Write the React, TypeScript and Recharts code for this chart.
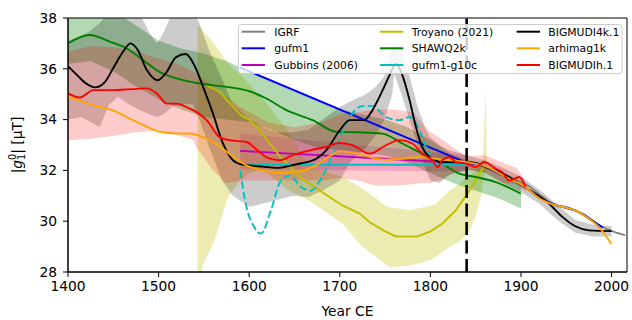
import React from "react";
import { ComposedChart, Line, Area, XAxis, YAxis, ReferenceLine, ReferenceArea } from "recharts";

const FONT = "DejaVu Sans, sans-serif";

// axis ticks
const xTicks = [1400, 1500, 1600, 1700, 1800, 1900, 2000];
const yTicks = [28, 30, 32, 34, 36, 38];

// IGRF
const igrfYears = [1900, 1905, 1910, 1915, 1920, 1925, 1930, 1935, 1940, 1945, 1950, 1955, 1960, 1965, 1970, 1975, 1980, 1985, 1990, 1995, 2000, 2005, 2010, 2015];
const igrfG10 = [31.54, 31.46, 31.35, 31.21, 31.06, 30.94, 30.8, 30.68, 30.59, 30.59, 30.55, 30.5, 30.42, 30.33, 30.22, 30.1, 29.99, 29.87, 29.78, 29.69, 29.62, 29.55, 29.5, 29.44];

// gufm1
const gufmYears = [1590, 1840, 1850, 1860, 1870, 1880, 1890, 1900, 1910, 1920, 1930, 1940, 1950, 1960, 1970, 1980, 1990];
const gufmG10 = [36.05, 32.3, 32.25, 32.17, 31.98, 31.8, 31.62, 31.44, 31.2, 30.92, 30.75, 30.62, 30.52, 30.43, 30.25, 30.0, 29.75];

// Gubbins (2006)
const gubYears = [1590, 1840];
const gubG10 = [32.77, 32.28];
const gubLow = [32.05, 31.95];
const gubHigh = [33.45, 32.6];

// Troyano (2021)
const troyYears = [1545, 1553, 1567, 1580, 1590, 1600, 1611, 1634, 1656, 1678, 1703, 1722, 1733, 1750, 1762, 1786, 1800, 1813, 1828, 1843, 1854, 1860];
const troyG10 = [35.4, 35.36, 35.1, 34.6, 34.2, 34.0, 33.6, 32.55, 31.74, 31.2, 30.62, 30.3, 29.96, 29.6, 29.4, 29.4, 29.6, 29.9, 30.43, 31.2, 31.87, 32.2];
const troyBandYears = [1543, 1549, 1560, 1564, 1575, 1578, 1590, 1600, 1610, 1620, 1630, 1640, 1650, 1667, 1703, 1722, 1740, 1747, 1755, 1777, 1799, 1806, 1821, 1832, 1843, 1850, 1856, 1858, 1861, 1862];
const troyLow = [27.3, 28.3, 29.1, 29.5, 30.8, 31.0, 31.6, 31.9, 32.0, 31.9, 31.6, 31.3, 31.1, 30.8, 29.9, 29.1, 28.58, 28.4, 28.19, 28.25, 28.45, 28.6, 28.98, 29.2, 29.6, 30.2, 31.0, 31.5, 32.0, 32.2];
const troyHigh = [37.7, 37.5, 37.05, 36.85, 36.3, 36.15, 35.8, 35.4, 35.0, 34.6, 34.1, 33.7, 33.1, 32.13, 31.74, 31.35, 30.9, 30.69, 30.55, 30.43, 30.6, 30.69, 31.2, 31.48, 31.8, 32.0, 32.3, 32.5, 35.2, 32.6];

// SHAWQ2k
const shawYears = [1400, 1424, 1446, 1465, 1483, 1501, 1520, 1545, 1575, 1600, 1619, 1641, 1670, 1696, 1720, 1747, 1769, 1791, 1810, 1832, 1850, 1872, 1900];
const shawG10 = [37.0, 37.33, 37.07, 36.8, 36.34, 35.88, 35.62, 35.42, 35.29, 35.12, 34.83, 34.37, 33.98, 33.52, 33.5, 33.45, 33.06, 32.66, 32.33, 31.87, 31.74, 31.54, 31.08];
const shawBandYears = [1400, 1425, 1450, 1475, 1500, 1525, 1550, 1575, 1600, 1625, 1650, 1675, 1700, 1725, 1750, 1775, 1800, 1825, 1850, 1875, 1900];
const shawLow = [36.2, 36.3, 35.9, 35.3, 34.8, 34.4, 34.1, 34.0, 33.9, 33.6, 33.2, 32.9, 32.8, 32.7, 32.6, 32.3, 31.9, 31.5, 31.2, 30.9, 30.5];
const shawHigh = [38.4, 38.6, 38.3, 37.7, 37.1, 36.8, 36.6, 36.3, 35.9, 35.5, 35.1, 34.8, 34.4, 34.2, 34.0, 33.7, 33.2, 32.6, 32.3, 32.0, 31.6];

// gufm1-g10c (constant) and its varying counterpart (dashed)
const g10cYears = [1590, 1840];
const g10cG10 = [32.22, 32.22];
const g10dYears = [1590, 1597, 1605, 1613, 1624, 1635, 1645, 1657, 1668, 1678, 1687, 1696, 1711, 1725, 1736, 1751, 1766, 1777, 1788, 1795, 1802, 1812, 1840];
const g10dG10 = [32.0, 30.56, 29.8, 29.51, 30.43, 31.6, 31.8, 31.35, 31.2, 31.6, 32.2, 32.92, 34.1, 34.53, 34.53, 34.1, 33.98, 34.1, 33.58, 32.92, 32.4, 32.22, 32.22];

// BIGMUDI4k.1
const b4kYears = [1400, 1410, 1420, 1430, 1440, 1450, 1460, 1469, 1477, 1487, 1499, 1509, 1519, 1530, 1540, 1549, 1560, 1571, 1582, 1590, 1600, 1615, 1630, 1645, 1656, 1674, 1685, 1700, 1711, 1727, 1736, 1749, 1755, 1762, 1769, 1777, 1784, 1791, 1799, 1806, 1810, 1839, 1850, 1861, 1876, 1887, 1898, 1916, 1931, 1946, 1960, 1975, 2000];
const b4kG10 = [36.1, 35.75, 35.42, 35.27, 35.45, 36.03, 36.63, 37.0, 36.74, 35.95, 35.55, 35.88, 36.45, 36.58, 36.1, 35.3, 34.24, 33.06, 32.4, 32.25, 32.2, 32.15, 32.1, 32.18, 32.27, 32.46, 32.79, 33.58, 33.98, 33.98, 34.37, 35.29, 35.75, 36.2, 35.75, 34.77, 33.71, 32.92, 32.53, 32.4, 32.33, 32.33, 32.29, 32.13, 31.94, 31.74, 31.48, 31.08, 30.69, 30.16, 29.8, 29.64, 29.61];
const b4kBandYears = [1400, 1415, 1425, 1435, 1445, 1455, 1467, 1478, 1490, 1498, 1505, 1515, 1528, 1538, 1545, 1555, 1570, 1582, 1601, 1615, 1630, 1648, 1665, 1681, 1700, 1711, 1729, 1740, 1749, 1758, 1760, 1768, 1777, 1786, 1795, 1800, 1810, 1820, 1840, 1860, 1880, 1900, 1920, 1940, 1960, 1980, 2000];
const b4kLow = [34.0, 34.1, 33.9, 33.7, 34.57, 34.9, 34.6, 34.4, 34.2, 34.1, 34.2, 34.5, 34.6, 34.6, 34.0, 33.0, 31.6, 31.0, 30.56, 30.7, 30.82, 31.0, 30.95, 31.2, 31.6, 32.3, 32.9, 33.4, 33.98, 35.0, 35.8, 35.0, 33.98, 33.0, 32.0, 31.6, 31.5, 31.8, 32.05, 31.9, 31.5, 31.15, 30.7, 30.05, 29.55, 29.4, 29.4];
const b4kHigh = [37.1, 37.3, 37.5, 37.8, 38.2, 38.6, 38.7, 38.3, 37.4, 37.0, 37.4, 38.2, 38.6, 38.3, 37.8, 36.8, 35.6, 34.6, 34.0, 33.7, 33.5, 33.5, 33.6, 34.0, 34.5, 34.7, 35.0, 35.3, 35.7, 36.87, 36.8, 36.6, 35.7, 34.5, 33.6, 33.3, 33.0, 32.8, 32.6, 32.4, 32.1, 31.75, 31.25, 30.65, 30.05, 29.85, 29.8];

// arhimag1k
const arhYears = [1400, 1428, 1450, 1465, 1483, 1501, 1520, 1531, 1553, 1565, 1578, 1597, 1615, 1634, 1652, 1670, 1685, 1700, 1714, 1730, 1751, 1773, 1788, 1813, 1839, 1861, 1887, 1902, 1924, 1946, 1960, 1975, 1986, 2000];
const arhG10 = [34.9, 34.57, 34.35, 34.1, 33.78, 33.52, 33.45, 33.45, 33.25, 33.0, 32.66, 32.2, 32.0, 31.9, 31.94, 32.13, 32.47, 32.75, 32.7, 32.55, 32.42, 32.47, 32.53, 32.42, 32.33, 32.16, 31.67, 31.41, 30.82, 30.56, 30.43, 30.1, 29.77, 29.1];

// BIGMUDIh.1
const bhYears = [1400, 1413, 1428, 1450, 1470, 1487, 1498, 1509, 1520, 1530, 1538, 1553, 1567, 1578, 1590, 1597, 1611, 1622, 1634, 1648, 1667, 1685, 1700, 1714, 1733, 1751, 1766, 1780, 1791, 1802, 1808, 1813, 1821, 1828, 1839, 1850, 1859, 1872, 1879, 1887, 1898, 1905];
const bhG10 = [35.03, 34.87, 35.16, 35.16, 35.2, 35.23, 35.03, 34.63, 34.63, 34.5, 34.37, 33.98, 33.32, 33.19, 33.15, 33.12, 32.73, 32.47, 32.4, 32.6, 32.79, 32.92, 33.08, 32.99, 32.66, 32.99, 33.19, 33.06, 32.66, 32.4, 32.13, 32.4, 32.53, 32.33, 32.27, 32.13, 32.33, 32.07, 31.94, 31.6, 31.74, 31.35];
const bhBandYears = [1400, 1425, 1450, 1475, 1500, 1520, 1538, 1542, 1560, 1575, 1590, 1620, 1650, 1680, 1700, 1720, 1740, 1760, 1780, 1790, 1800, 1810, 1825, 1840, 1860, 1880, 1895, 1905];
const bhLow = [33.19, 33.25, 33.35, 33.5, 33.58, 33.4, 33.2, 32.9, 32.0, 31.48, 31.6, 31.6, 31.6, 31.6, 31.7, 31.6, 31.4, 31.4, 31.45, 31.5, 31.5, 31.6, 31.9, 32.0, 31.95, 31.5, 31.45, 31.15];
const bhHigh = [36.67, 36.9, 36.85, 36.7, 36.4, 36.2, 35.9, 35.8, 35.3, 34.9, 34.5, 33.9, 33.7, 33.9, 34.2, 34.3, 34.4, 34.4, 34.3, 33.9, 33.5, 33.3, 32.9, 32.55, 32.6, 32.3, 32.1, 31.6];

const legendItems = [
  { name: "IGRF", color: "#808080" },
  { name: "gufm1", color: "#0000ff" },
  { name: "Gubbins (2006)", color: "#bf00bf" },
  { name: "Troyano (2021)", color: "#bfbf00" },
  { name: "SHAWQ2k", color: "#008000" },
  { name: "gufm1-g10c", color: "#00bfbf" },
  { name: "BIGMUDI4k.1", color: "#000000" },
  { name: "arhimag1k", color: "#ffa500" },
  { name: "BIGMUDIh.1", color: "#ff0000" },
];

const toLine = (years: number[], vals: number[]) => years.map((year, i) => ({ year, v: vals[i] }));
const toBand = (years: number[], lo: number[], hi: number[]) =>
  years.map((year, i) => ({ year, range: [lo[i], hi[i]] }));

function band(data: any[], color: string, opacity: number) {
  return (
    <Area
      data={data}
      dataKey="range"
      type="linear"
      stroke="none"
      fill={color}
      fillOpacity={opacity}
      dot={false}
      activeDot={false}
      isAnimationActive={false}
    />
  );
}

function line(data: any[], color: string, extra: any = {}) {
  return (
    <Line
      data={data}
      dataKey="v"
      type="monotoneX"
      stroke={color}
      strokeWidth={1.9}
      dot={false}
      activeDot={false}
      isAnimationActive={false}
      {...extra}
    />
  );
}

export default function App() {
  const tickStyle = { fill: "#000", fontSize: 13.8, fontFamily: FONT };
  const rows = [31.7, 48.3, 65];
  const handleX = [241.7, 380, 516.7];
  const textX = [274.3, 411.7, 548.3];
  return (
    <div style={{ position: "absolute", left: 0, top: 0, width: 632, height: 320, background: "#fff" }}>
      <ComposedChart width={632} height={320} margin={{ top: 18, right: 5, bottom: 18, left: 8 }}>
        <XAxis
          type="number"
          dataKey="year"
          domain={[1400, 2017]}
          ticks={xTicks}
          allowDataOverflow
          height={30}
          tickSize={5}
          tickMargin={4}
          stroke="#000"
          tick={tickStyle}
        />
        <YAxis
          type="number"
          domain={[28, 38]}
          ticks={yTicks}
          allowDataOverflow
          width={60}
          tickSize={5}
          tickMargin={6}
          stroke="#000"
          tick={tickStyle}
        />
        {line(toLine(igrfYears, igrfG10), "#808080", { type: "linear" })}
        {line(toLine(gufmYears, gufmG10), "#0000ff", { type: "linear" })}
        {band(toBand(gubYears, gubLow, gubHigh), "#bf00bf", 0.2)}
        {line(toLine(gubYears, gubG10), "#bf00bf", { type: "linear" })}
        {band(toBand(troyBandYears, troyLow, troyHigh), "#bfbf00", 0.3)}
        {line(toLine(troyYears, troyG10), "#bfbf00", { type: "linear" })}
        {band(toBand(shawBandYears, shawLow, shawHigh), "#008000", 0.3)}
        {line(toLine(shawYears, shawG10), "#008000")}
        {line(toLine(g10cYears, g10cG10), "#00bfbf", { type: "linear" })}
        {line(toLine(g10dYears, g10dG10), "#00bfbf", { strokeDasharray: "7.5 3.3" })}
        {band(toBand(b4kBandYears, b4kLow, b4kHigh), "#000000", 0.2)}
        {line(toLine(b4kYears, b4kG10), "#000000")}
        {line(toLine(arhYears, arhG10), "#ffa500")}
        {band(toBand(bhBandYears, bhLow, bhHigh), "#ff0000", 0.2)}
        {line(toLine(bhYears, bhG10), "#ff0000")}
        <ReferenceLine x={1840} stroke="#000" strokeWidth={2.6} strokeDasharray="13 5.5" />
        <ReferenceArea x1={1400} x2={2017} y1={28} y2={38} fill="none" stroke="#000" strokeWidth={1} ifOverflow="visible" />
      </ComposedChart>
      <svg width={632} height={320} style={{ position: "absolute", left: 0, top: 0, pointerEvents: "none" }}>
        <rect x={238.5} y={24.5} width={383.5} height={49} rx={3} fill="#fff" fillOpacity={0.8} stroke="#cccccc" />
        {legendItems.map((it, i) => {
          const col = Math.floor(i / 3);
          const row = i % 3;
          const y = rows[row];
          return (
            <g key={it.name}>
              <line x1={handleX[col]} x2={handleX[col] + 23.3} y1={y} y2={y} stroke={it.color} strokeWidth={2} />
              <text x={textX[col]} y={y + 4} fontSize={10.8} fontFamily={FONT} fill="#000">
                {it.name}
              </text>
            </g>
          );
        })}
        <text
          x={22}
          y={145}
          transform="rotate(-90 22 145)"
          textAnchor="middle"
          fontSize={13.8}
          fontFamily={FONT}
          fill="#000"
        >
          |<tspan fontStyle="italic">g</tspan>
          <tspan fontSize={9.7} dy={-6}>0</tspan>
          <tspan fontSize={9.7} dx={-6.2} dy={9}>1</tspan>
          <tspan dy={-3}>| [μT]</tspan>
        </text>
        <text x={347.5} y={315.5} textAnchor="middle" fontSize={13.8} fontFamily={FONT} fill="#000">
          Year CE
        </text>
      </svg>
    </div>
  );
}
